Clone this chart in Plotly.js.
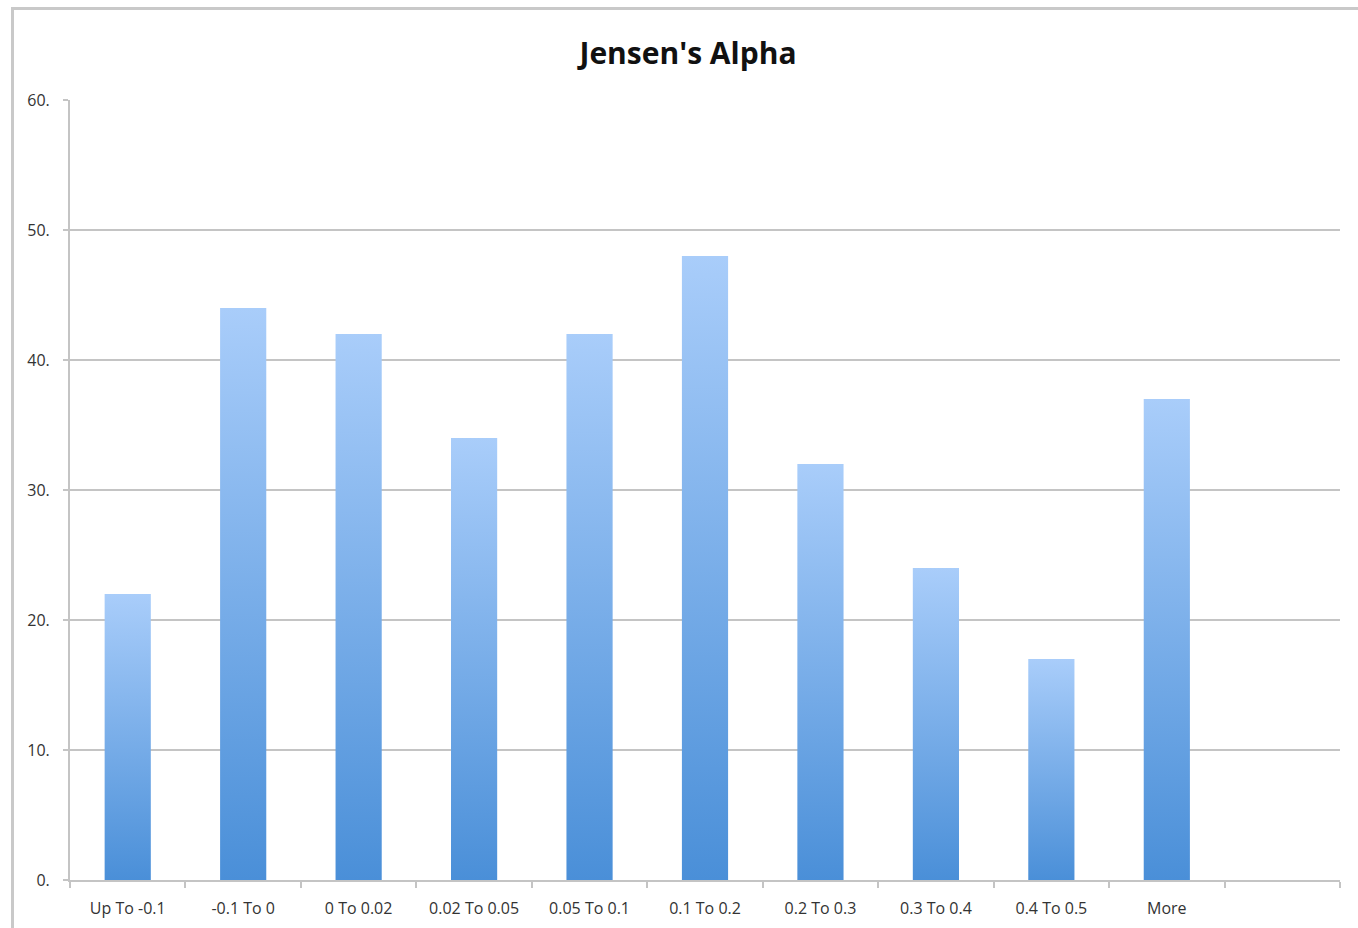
<!DOCTYPE html>
<html>
<head>
<meta charset="utf-8">
<script src="https://cdn.plot.ly/plotly-3.0.1.min.js"></script>
<style>
  html, body { margin: 0; padding: 0; background: #ffffff; overflow: hidden; }
  #frame { position: absolute; left: 11px; top: 7px; width: 1400px; height: 1000px;
           border-left: 3px solid #c9c9c9; border-top: 3px solid #c9c9c9; }
  #chart { position: absolute; left: 0; top: 0; width: 1358px; height: 928px; }
</style>
</head>
<body>
<div id="frame"></div>
<div id="chart"></div>
<script>
const categories = ["Up To -0.1", "-0.1 To 0", "0 To 0.02", "0.02 To 0.05", "0.05 To 0.1",
                    "0.1 To 0.2", "0.2 To 0.3", "0.3 To 0.4", "0.4 To 0.5", "More"];
const counts = [22, 44, 42, 34, 42, 48, 32, 24, 17, 37];
const yTickValues = [0, 10, 20, 30, 40, 50, 60];
const yTickLabels = ["0.", "10.", "20.", "30.", "40.", "50.", "60."];

const positions = categories.map((_, i) => i);

const trace = {
  type: "bar",
  x: positions,
  y: counts,
  marker: { color: "#74a9e8", line: { width: 0 } },
  hoverinfo: "x+y"
};

const gridColor = "#c4c4c4";
const fontFamily = "'Open Sans', 'Noto Sans', sans-serif";

const layout = {
  width: 1358,
  height: 928,
  paper_bgcolor: "rgba(0,0,0,0)",
  plot_bgcolor: "rgba(0,0,0,0)",
  margin: { l: 70, r: 18, t: 100, b: 48 },
  showlegend: false,
  bargap: 0.6,
  title: {
    text: "<b>Jensen's Alpha</b>",
    font: { family: fontFamily, size: 30, color: "#111111" },
    xref: "container", yref: "container",
    x: 688 / 1358, y: 1 - 53 / 928, xanchor: "center", yanchor: "middle"
  },
  xaxis: {
    range: [-0.5, 10.5],
    tickvals: positions,
    ticktext: categories,
    ticks: "",
    showgrid: false,
    zeroline: false,
    showline: true,
    linecolor: gridColor,
    linewidth: 2,
    tickfont: { family: fontFamily, size: 16, color: "#333333" },
    ticklabelstandoff: 13,
    minor: { tick0: -0.5, dtick: 1, ticks: "outside", ticklen: 6, tickcolor: gridColor, tickwidth: 2, showgrid: false },
    fixedrange: true
  },
  yaxis: {
    range: [0, 60],
    tickvals: yTickValues,
    ticktext: yTickLabels,
    ticks: "outside",
    ticklen: 5,
    tickcolor: gridColor,
    tickwidth: 2,
    showgrid: true,
    gridcolor: gridColor,
    gridwidth: 2,
    zeroline: false,
    showline: true,
    linecolor: gridColor,
    linewidth: 2,
    tickfont: { family: fontFamily, size: 16, color: "#333333" },
    ticklabelstandoff: 10,
    fixedrange: true
  }
};

Plotly.newPlot("chart", [trace], layout, { displayModeBar: false, staticPlot: true }).then(function (gd) {
  const svg = gd.querySelector("svg.main-svg");
  const ns = "http://www.w3.org/2000/svg";
  let defs = svg.querySelector("defs");
  if (!defs) { defs = document.createElementNS(ns, "defs"); svg.insertBefore(defs, svg.firstChild); }
  const grad = document.createElementNS(ns, "linearGradient");
  grad.setAttribute("id", "barGrad");
  grad.setAttribute("x1", "0"); grad.setAttribute("y1", "0");
  grad.setAttribute("x2", "0"); grad.setAttribute("y2", "1");
  [["0", "#a9cdfa"], ["1", "#4a8fd8"]].forEach(function (s) {
    const stop = document.createElementNS(ns, "stop");
    stop.setAttribute("offset", s[0]);
    stop.setAttribute("stop-color", s[1]);
    grad.appendChild(stop);
  });
  defs.appendChild(grad);
  gd.querySelectorAll("g.point path").forEach(function (p) {
    p.style.fill = "url(#barGrad)";
  });
});
</script>
</body>
</html>
